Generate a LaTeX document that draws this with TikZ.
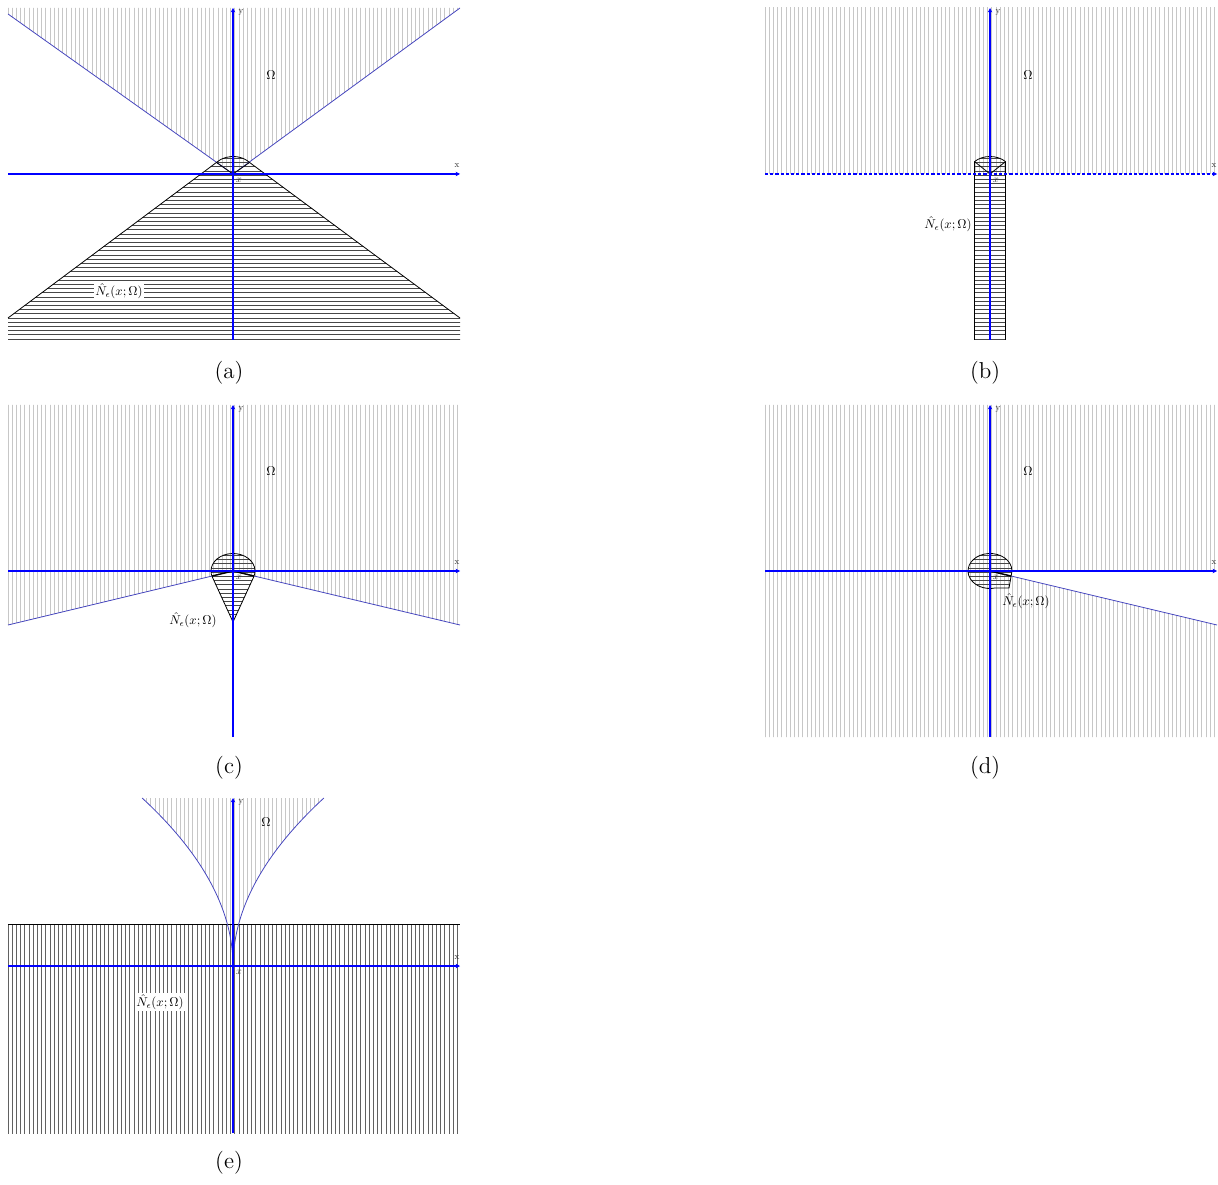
\documentclass[tikz,border=0pt]{standalone}
\usetikzlibrary{arrows.meta}
\definecolor{bndblue}{RGB}{70,70,190}
\newcommand{\mylab}[1]{\scalebox{0.64}{#1}}
\newcommand{\myvhatch}[1]{\foreach \k in {0,...,108} {\draw[#1] ({-225+\k*4.2},-170) -- ({-225+\k*4.2},170);}}
\newcommand{\myhhatch}[1]{\foreach \k in {0,...,80} {\draw[#1] (-230,{-165+\k*4.2}) -- (230,{-165+\k*4.2});}}
\newcommand{\myaxes}[4]{%
  \draw[axis#4] (-225,0) -- (227,0);
  \draw[axis] (0,-#2) -- (0,#3);
  \node[axlbl] (#1xl) at (224,8) {\scalebox{0.45}{x}};
  \node[axlbl] (#1yl) at (8,{#3-4}) {\scalebox{0.45}{y}};
  \node[ptlbl] (#1pt) at (6,-6) {\scalebox{0.5}{$x$}};
}
\begin{document}
\begin{tikzpicture}[x=0.5pt,y=0.5pt,
  axis/.style={blue, line width=0.55pt, -{Stealth[length=2.2pt,width=2.2pt]}},
  axisdash/.style={axis, dash pattern=on 1.6pt off 1pt},
  bnd/.style={bndblue, line width=0.4pt},
  omh/.style={black!22, line width=0.35pt},
  nh/.style={black!72, line width=0.35pt},
  nvh/.style={black!62, line width=0.35pt},
  nedge/.style={black, line width=0.4pt},
  lbl/.style={inner sep=0.6pt},
  lblw/.style={lbl, fill=white},
  axlbl/.style={inner sep=0pt, black!85},
  ptlbl/.style={inner sep=0pt, black!80},
  capt/.style={font=\fontsize{11.5}{13}\selectfont}]
\useasboundingbox (0,0) rectangle (1218,1184);

% ---------------- (a)
\begin{scope}[shift={(233,1010)}]
  \begin{scope}
    \clip (-225,166) -- (-225,160) -- (0,0) -- (227,166) -- cycle;
    \myvhatch{omh}
  \end{scope}
  \begin{scope}
    \clip (16.56,11.53) arc[start angle=41.2,end angle=138.8,x radius=22,y radius=17.5]
      -- (-225,-144) -- (-225,-166) -- (227,-166) -- (227,-144) -- cycle;
    \myhhatch{nh}
  \end{scope}
  \draw[bnd] (-225,160) -- (0,0) -- (227,166);
  \draw[nedge] (-225,-144) -- (-16.56,11.53)
    arc[start angle=138.8,end angle=41.2,x radius=22,y radius=17.5] -- (227,-144);
  \draw[nedge] (-16.56,11.53) -- (0,0) -- (16.56,11.53);
  \myaxes{a}{166}{166}{}
  \node[lbl] (aO) at (38,99) {\mylab{$\Omega$}};
  \node[lblw] (aN) at (-114,-117) {\mylab{$\hat N_\epsilon(x;\Omega)$}};
\end{scope}

% ---------------- (b)
\begin{scope}[shift={(990,1010)}]
  \begin{scope}
    \clip (-225,0) rectangle (227,166);
    \myvhatch{omh}
  \end{scope}
  \begin{scope}
    \clip (15.5,12.4) arc[start angle=45.2,end angle=134.8,x radius=22,y radius=17.5]
      -- (-15.5,-166) -- (15.5,-166) -- cycle;
    \myhhatch{nh}
  \end{scope}
  \draw[nedge] (-15.5,-166) -- (-15.5,12.4)
    arc[start angle=134.8,end angle=45.2,x radius=22,y radius=17.5] -- (15.5,-166);
  \draw[nedge] (-15.5,12.4) -- (0,0) -- (15.5,12.4);
  \myaxes{b}{166}{166}{dash}
  \node[lbl] (bO) at (38,99) {\mylab{$\Omega$}};
  \node[lbl] (bN) at (-42,-50) {\mylab{$\hat N_\epsilon(x;\Omega)$}};
\end{scope}

% ---------------- (c)
\begin{scope}[shift={(233,613)}]
  \begin{scope}
    \clip (-225,166) -- (-225,-54) -- (0,0) -- (227,-54) -- (227,166) -- cycle;
    \myvhatch{omh}
  \end{scope}
  \begin{scope}
    \clip (0,-51) -- (20.58,-6.19)
      arc[start angle=-20.7,end angle=200.7,x radius=22,y radius=17.5] -- cycle;
    \myhhatch{nh}
  \end{scope}
  \draw[bnd] (-225,-54) -- (0,0) -- (227,-54);
  \draw[nedge] (0,-51) -- (20.58,-6.19)
    arc[start angle=-20.7,end angle=200.7,x radius=22,y radius=17.5] -- cycle;
  \draw[nedge, line width=0.7pt] (-21.1,-5.07) -- (0,0) -- (21.1,-5.07);
  \myaxes{c}{166}{166}{}
  \node[lbl] (cO) at (38,100) {\mylab{$\Omega$}};
  \node[lbl] (cN) at (-40,-49) {\mylab{$\hat N_\epsilon(x;\Omega)$}};
\end{scope}

% ---------------- (d)
\begin{scope}[shift={(990,613)}]
  \begin{scope}
    \clip (-225,-166) -- (-225,166) -- (227,166) -- (227,0) -- (0,0) -- (227,-54) -- (227,-166) -- cycle;
    \myvhatch{omh}
  \end{scope}
  \begin{scope}
    \clip (5.69,-16.90) arc[start angle=-75,end angle=-376.4,x radius=22,y radius=17.5]
      -- (19,-17) -- cycle;
    \myhhatch{nh}
  \end{scope}
  \draw[bnd] (0,0) -- (227,-54);
  \draw[nedge] (5.69,-16.90) arc[start angle=-75,end angle=-376.4,x radius=22,y radius=17.5]
      -- (19,-17) -- cycle;
  \draw[nedge, line width=0.7pt] (0,0) -- (21.1,-5.07);
  \myaxes{d}{166}{166}{}
  \node[lbl] (dO) at (38,100) {\mylab{$\Omega$}};
  \node[lbl] (dN) at (36,-30) {\mylab{$\hat N_\epsilon(x;\Omega)$}};
\end{scope}

% ---------------- (e)
\begin{scope}[shift={(233,218)}]
  \begin{scope}
    \clip plot[domain=168:0,variable=\t,samples=60] ({-0.00322*\t*\t},\t)
      -- plot[domain=0:168,variable=\t,samples=60] ({0.00322*\t*\t},\t) -- cycle;
    \myvhatch{omh}
  \end{scope}
  \begin{scope}
    \clip (-225,-167) rectangle (227,42);
    \myvhatch{nvh}
  \end{scope}
  \draw[nedge] (-225,42) -- (227,42);
  \draw[bnd] plot[domain=0:168,variable=\t,samples=60] ({-0.00322*\t*\t},\t);
  \draw[bnd] plot[domain=0:168,variable=\t,samples=60] ({0.00322*\t*\t},\t);
  \draw[axis] (-225,0) -- (227,0);
  \draw[axis] (0,-167) -- (0,168);
  \node[axlbl] (exl) at (224,8) {\scalebox{0.45}{x}};
  \node[axlbl] (eyl) at (8,164) {\scalebox{0.45}{y}};
  \node[ptlbl] (ept) at (6,-6) {\scalebox{0.5}{$x$}};
  \node[lbl] (eO) at (33,144) {\mylab{$\Omega$}};
  \node[lblw] (eN) at (-73,-36) {\mylab{$\hat N_\epsilon(x;\Omega)$}};
\end{scope}

% captions
\node[capt] (capa) at (229,811) {(a)};
\node[capt] (capb) at (985,811) {(b)};
\node[capt] (capc) at (229,416) {(c)};
\node[capt] (capd) at (985,416) {(d)};
\node[capt] (cape) at (229,21) {(e)};
\end{tikzpicture}
\end{document}
